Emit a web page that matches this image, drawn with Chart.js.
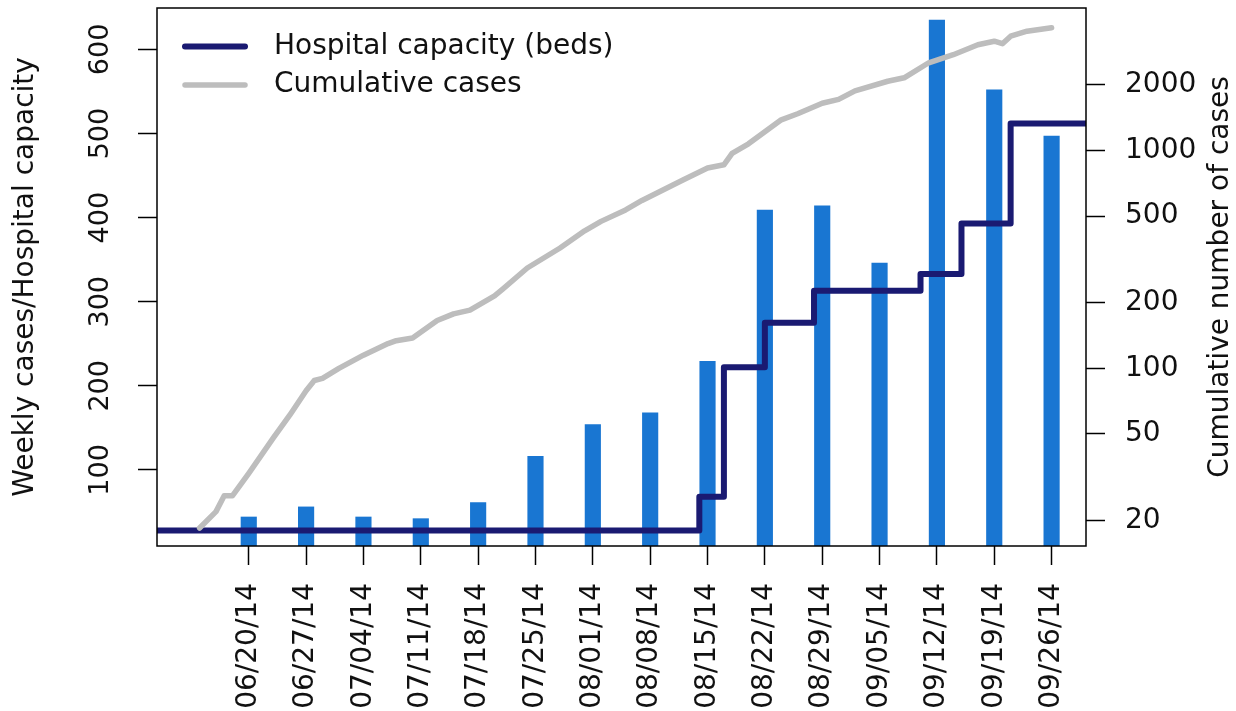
<!DOCTYPE html>
<html>
<head>
<meta charset="utf-8">
<title>Weekly cases, hospital capacity and cumulative cases</title>
<script src="https://cdn.jsdelivr.net/npm/chart.js@4.4.1/dist/chart.umd.min.js"></script>
<style>
  html, body { margin: 0; padding: 0; background: #fff; }
  #wrap { width: 1236px; height: 711px; }
</style>
</head>
<body>
<div id="wrap"><canvas id="chart"></canvas></div>
<script>
// Week-ending dates on the x axis, as days after 06/20/14
const weekLabels = ["06/20/14", "06/27/14", "07/04/14", "07/11/14", "07/18/14", "07/25/14", "08/01/14",
  "08/08/14", "08/15/14", "08/22/14", "08/29/14", "09/05/14", "09/12/14", "09/19/14", "09/26/14"];
const weekDays = [0, 7, 14, 21, 28, 35, 42, 49, 56, 63, 70, 77, 84, 91, 98];

// Weekly new cases (bars, left axis)
const weeklyCases = [44, 56, 44, 42, 61, 116, 154, 168, 229, 409, 414, 346, 635, 552, 497];

// Hospital capacity in beds (step line, left axis): new level from that day on
const capacityDays = [-12, 55, 58, 63, 69, 82, 87, 93, 103];
const capacityBeds = [28, 68, 222, 275, 313, 333, 393, 512, 512];

// Cumulative number of cases (grey line, right log axis)
const cumulativeDays = [-6, -4, -3, -2, 0, 3, 5, 7, 8, 9, 11, 14, 17, 18, 20, 23, 25, 27, 30, 31, 34, 38,
  41, 43, 46, 48, 53, 56, 58, 59, 61, 65, 67, 70, 72, 74, 78, 80, 83, 86, 89, 91, 92, 93, 95, 98];
const cumulativeCases = [18.5, 22, 26, 26, 33, 48, 61, 79, 88, 90, 100, 115, 130, 134, 138, 166, 178, 185,
  215, 231, 289, 357, 428, 473, 534, 590, 733, 832, 860, 971, 1074, 1384, 1475, 1648, 1718, 1880, 2080,
  2158, 2529, 2754, 3061, 3176, 3093, 3348, 3530, 3664];

const leftTicks = [100, 200, 300, 400, 500, 600];
const rightTicks = [20, 50, 100, 200, 500, 1000, 2000];

Chart.defaults.font.family = "'DejaVu Sans', sans-serif";
Chart.defaults.color = "#111";

const tickGrid = { display: true, drawOnChartArea: false, offset: false, tickLength: 19, tickWidth: 1.5, tickColor: "#000" };

// fixed axis sizes so the plot box sits where it does in the original
function fixSize(s, w, h) {
  if (w) s.width = w;
  if (h) s.height = h;
  s.paddingTop = 0;
  s.paddingBottom = 0;
  s.paddingLeft = 0;
  s.paddingRight = 0;
}

// Box round the plot, legend and the right-hand title (reads upwards)
const framePlugin = {
  id: "frame",
  afterDraw(chart) {
    const { ctx, chartArea: a } = chart;
    ctx.save();
    ctx.strokeStyle = "#000";
    ctx.lineWidth = 1.5;
    ctx.strokeRect(a.left, a.top, a.right - a.left, a.bottom - a.top);

    const items = chart.data.datasets.filter(d => d.type === "line");
    ctx.font = "28px 'DejaVu Sans', sans-serif";
    ctx.textBaseline = "middle";
    ctx.textAlign = "left";
    items.forEach((d, i) => {
      const y = a.top + 38.5 + i * 38.5;
      ctx.strokeStyle = d.borderColor;
      ctx.lineWidth = d.borderWidth;
      ctx.lineCap = "round";
      ctx.beginPath();
      ctx.moveTo(a.left + 28, y);
      ctx.lineTo(a.left + 88, y);
      ctx.stroke();
      ctx.fillStyle = "#111";
      ctx.fillText(d.label, a.left + 117, y);
    });

    ctx.translate(1221, (a.top + a.bottom) / 2);
    ctx.rotate(-Math.PI / 2);
    ctx.textAlign = "center";
    ctx.fillText("Cumulative number of cases", 0, 0);
    ctx.restore();
  }
};

new Chart(document.getElementById("chart"), {
  type: "bar",
  data: {
    datasets: [
      {
        type: "line",
        label: "Hospital capacity (beds)",
        data: capacityDays.map((d, i) => ({ x: d, y: capacityBeds[i] })),
        yAxisID: "y",
        borderColor: "#1a1a72",
        borderWidth: 6,
        stepped: "before",
        pointRadius: 0,
        borderJoinStyle: "round",
        order: 2
      },
      {
        type: "line",
        label: "Cumulative cases",
        data: cumulativeDays.map((d, i) => ({ x: d, y: cumulativeCases[i] })),
        yAxisID: "y2",
        borderColor: "#bdbdbd",
        borderWidth: 5.5,
        tension: 0,
        pointRadius: 0,
        borderJoinStyle: "round",
        borderCapStyle: "round",
        order: 1
      },
      {
        type: "bar",
        label: "Weekly cases",
        data: weekDays.map((d, i) => ({ x: d, y: weeklyCases[i] })),
        yAxisID: "y",
        backgroundColor: "#1976d2",
        barThickness: 15.5,
        order: 3
      }
    ]
  },
  options: {
    responsive: true,
    maintainAspectRatio: false,
    animation: false,
    layout: { padding: { top: 8, left: 0, right: 0, bottom: 0 } },
    plugins: { legend: { display: false }, tooltip: { enabled: false } },
    scales: {
      x: {
        type: "linear",
        min: -11.2,
        max: 102.2,
        offset: false,
        afterBuildTicks: s => { s.ticks = weekDays.map(v => ({ value: v })); },
        ticks: {
          autoSkip: false,
          minRotation: 90,
          maxRotation: 90,
          padding: 18,
          font: { size: 28 },
          callback: (v, i) => weekLabels[i]
        },
        grid: tickGrid,
        border: { display: false },
        afterFit: s => fixSize(s, 0, 165)
      },
      y: {
        type: "linear",
        position: "left",
        min: 9.5,
        max: 649.3,
        afterBuildTicks: s => { s.ticks = leftTicks.map(v => ({ value: v })); },
        ticks: {
          minRotation: 90,
          maxRotation: 90,
          crossAlign: "center",
          padding: 11,
          font: { size: 27 }
        },
        grid: tickGrid,
        border: { display: false },
        title: {
          display: true,
          text: "Weekly cases/Hospital capacity",
          font: { size: 28 },
          padding: { top: 9, bottom: 0 }
        },
        afterFit: s => fixSize(s, 157, 0)
      },
      y2: {
        type: "logarithmic",
        position: "right",
        min: 15.3,
        max: 4512,
        afterBuildTicks: s => { s.ticks = rightTicks.map(v => ({ value: v })); },
        ticks: {
          padding: 20,
          font: { size: 28 },
          callback: v => String(v)
        },
        grid: tickGrid,
        border: { display: false },
        afterFit: s => fixSize(s, 150, 0)
      }
    }
  },
  plugins: [framePlugin]
});
</script>
</body>
</html>
